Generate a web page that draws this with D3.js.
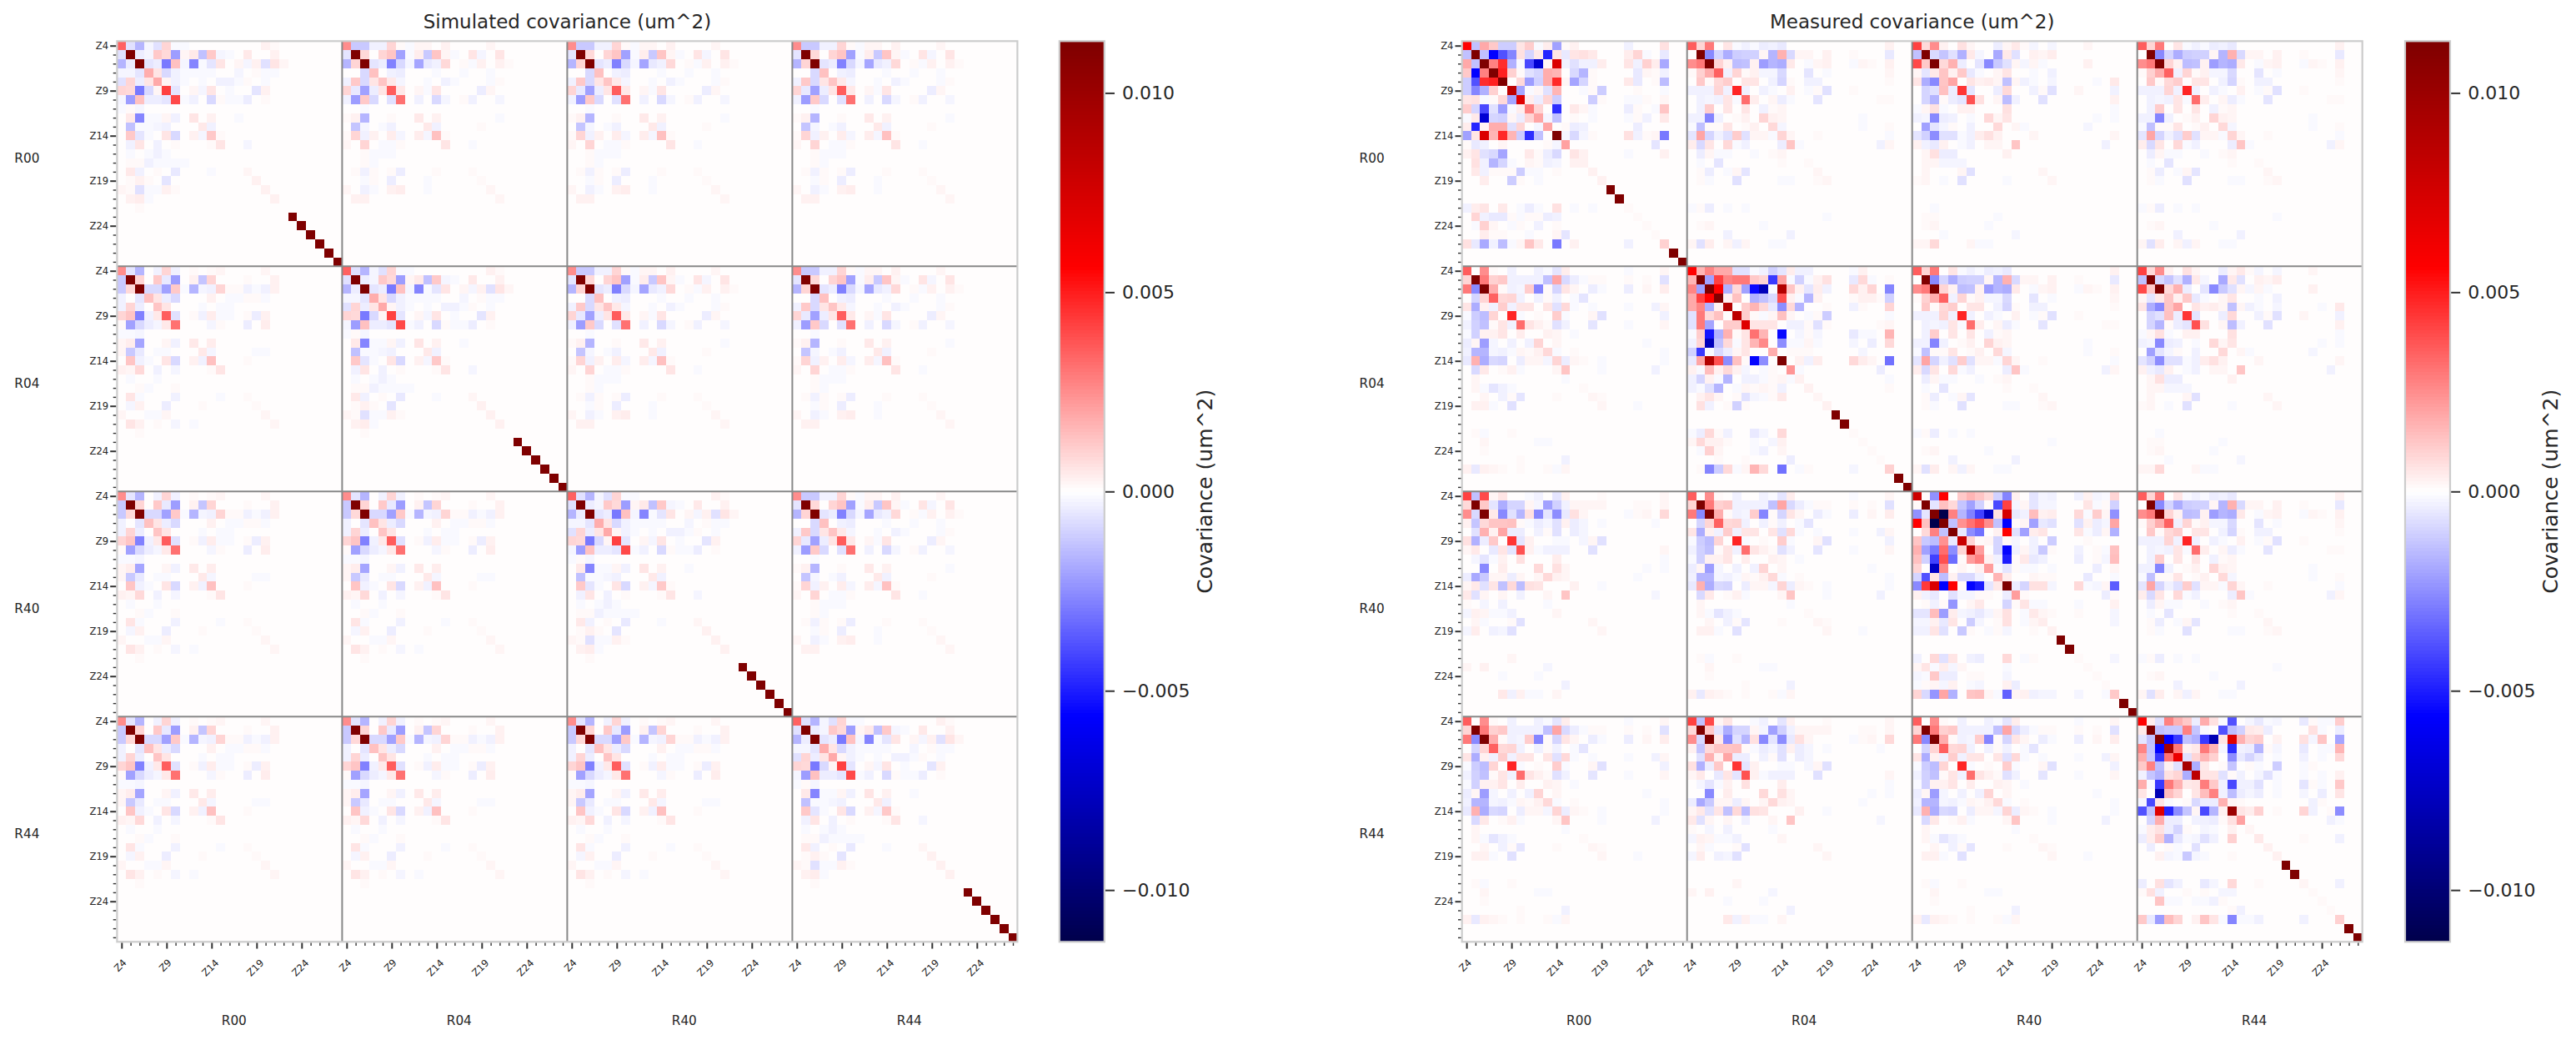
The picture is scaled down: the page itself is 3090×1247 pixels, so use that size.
<!DOCTYPE html>
<html>
<head>
<meta charset="utf-8">
<script src="https://cdn.jsdelivr.net/npm/d3@7"></script>
<style>
body { margin: 0; background: #fff; }
text { font-family: "DejaVu Sans", sans-serif; fill: #262626; }
</style>
</head>
<body>
<div id="chart"></div>
<script>
// values below are in units of 1e-4 um^2. rows are cut after the last non zero value
var rafts = ['R00', 'R04', 'R40', 'R44'];
var colorTicks = [-0.010, -0.005, 0, 0.005, 0.010];
var colorMax = 0.0113;

var simDiag = [
[35,-7,-16,-2,-7,9,-1,-1,0,0,0,0,0,0,0,0,3,1],
[-7,113,-4,-2,12,8,-22,2,5,-14,12,-2,-1,0,5,0,0,3],
[-16,-4,113,-6,-4,-30,14,-2,-27,-1,-6,6,0,2,-2,3,-7,6,2],
[-2,-2,-6,18,6,-8,-3,-1,-1,-1,-1,0,0,-2,0,1,-1,-1],
[-7,9,-4,6,19,2,-3,-1,0,-1,0,-3,-3,-1,1,0,-1],
[9,8,-30,-8,2,42,-6,0,2,-2,6,0,-1,0,0,-6,3],
[-2,-22,14,-4,-4,-6,40,-1,-3,0,-8,1,-1,-1,-4,0,1],
[-1,1,-2],
[0,5,-27,-1,-1,2,-3,0,6,0,3,0,0,-1],
[0,-14,-1,-1,-2,-3,0,0,0,5,-3],
[0,12,-6,-1,0,6,-8,0,3,-2,12,1],
[0,-3,6,0,-3,0,1,0,0,0,1,6,0,0,-2],
[0,-1,0,-1,-3,-1],
[0,1,1,-3,-1,-1,-1,-1],
[0,5,-3,0,1,0,-5,0,0,0,-1,0,0,0,2],
[0,1,3,1,0,-6,0,0,0,0,0,0,0,0,0,3],
[2,1,-7,-1,-1,3,1,0,0,0,0,0,0,0,0,0,3],
[0,3,4,-1,0,0,0,0,0,0,0,0,0,0,0,0,0,3],
[0,0,1],
[0,0,0,0,0,0,0,0,0,0,0,0,0,0,0,0,0,0,0,113],
[0,0,0,0,0,0,0,0,0,0,0,0,0,0,0,0,0,0,0,0,113],
[0,0,0,0,0,0,0,0,0,0,0,0,0,0,0,0,0,0,0,0,0,113],
[0,0,0,0,0,0,0,0,0,0,0,0,0,0,0,0,0,0,0,0,0,0,113],
[0,0,0,0,0,0,0,0,0,0,0,0,0,0,0,0,0,0,0,0,0,0,0,113],
[0,0,0,0,0,0,0,0,0,0,0,0,0,0,0,0,0,0,0,0,0,0,0,0,113]
];

var simCross = [
[25,-12,-12,-3,-3,9,1,-1,2,2,0,3,0,0,0,0,2],
[-6,113,8,0,9,13,-21,-1,4,-12,13,2,-1,0,6,-2,0,6],
[-16,9,113,-6,-4,-28,-8,-2,-20,-5,-3,8,0,1,-1,3,0,3,1],
[0,0,-8,14,0,-3,-4,0,0,0,-1,0,0,-1,0,0,-1],
[-3,12,-8,6,13,5,-2,0,0,-1,0,-3,-1,0,0,0,-1,1],
[9,-5,-21,-4,6,36,5,0,2,-1,6,0,0,0,0,-4,2],
[-3,-22,12,-8,0,-7,31,0,-3,0,-8,-2,0,1,-3,0,0,-2],
[0,0,-1],
[1,3,-16,0,0,1,0,0,5,0,3,0,0,0,0,0,0,-1],
[0,-13,-2,0,-1,-3,0,0,0,5,-3,0,0,0,0,1],
[1,9,-3,3,0,4,-2,0,4,-2,14,1],
[2,0,9,0,-1,-1,1,0,0,0,0,6,0,0,-1],
[0,0,1,-1,-1,-1],
[0,0,1,-1],
[0,1,-3,1,0,1,-4,0,0,0,1,0,0,0,1],
[0,0,-1,1,0,-4,0,0,0,-1,0,0,0,0,0,1],
[2,0,-3,-1,0,3,4,0,0,-1,0,0,0,0,0,0,2],
[0,3,3,0,0,0,0,0,0,0,0,0,0,0,0,0,0,2]
];

var measR00 = [
[56,-14,19,12,-11,-11,6,11,-1,4,-21,1,3,0,0,0,0,0,-3,0,0,0,7],
[-14,113,-14,-56,-38,-27,7,-9,5,-48,6,-5,6,7,5,0,0,0,4,9,-1,0,-5],
[19,-14,113,28,46,-17,-1,-40,-70,2,72,-3,-7,-3,-3,4,0,0,6,-3,10,4,-19],
[12,-56,28,113,49,10,1,-7,-9,18,16,0,-8,-16,1,0,0,0,0,-5,2,1,-3],
[-11,-38,46,49,113,0,8,-22,-10,18,47,2,-20,-9,1,0,0,0,5,-5,0,1,-15],
[-11,-27,-17,10,0,85,-20,-1,2,-7,16,0,0,-1,1,-11,0,0,0,1,0,0,-1],
[6,7,-1,1,8,-20,70,4,-4,9,-11,0,0,0,-11,1,0,0,-1,-1,1,0,2],
[11,-9,-40,-7,-22,-1,4,28,9,0,-46,0,5,2,-1,0,0,0,-4,1,0,-1,13],
[-1,5,-70,-9,-10,2,-4,9,20,-2,-14,0,1,0,-1,0,0,0,-1,1,-3,0,5],
[4,-48,2,18,18,-7,9,0,-2,20,0,1,-4,-3,0,0,0,0,0,-4],
[-21,6,72,16,47,16,-11,-46,-14,0,113,-2,-8,-2,1,0,0,0,7,-3,1,2,-30],
[1,-5,-3,0,2,0,0,0,0,1,-2,21,0,0,0,0,0,0,0,0,0,-6],
[3,6,-7,-8,-20,0,0,5,1,-4,-8,0,6,3,0,0,0,0,-1,0,0,0,3],
[0,7,-3,-16,-9,-1,0,2,1,-3,-2,0,3,3],
[0,5,-3,1,1,1,-11,-1,-1,0,1,0,0,0,3],
[0,0,4,0,0,-11,1,0,-1,0,0,0,0,0,0,3],
[0,0,0,0,0,0,0,0,0,0,0,0,0,0,0,0,113],
[0,0,0,0,0,0,0,0,0,0,0,0,0,0,0,0,0,113],
[-3,4,6,0,5,0,-1,-4,-1,0,7,0,-1,0,-1,0,0,0,1],
[0,9,-3,-5,-5,1,-1,1,1,-4,-3,0,0,0,0,0,0,0,0,1],
[0,-1,10,2,0,-1,1,0,-3,0,1,0,0,0,0,0,0,0,0,0,1],
[0,0,4,1,1,0,0,-1,0,0,2,-6,0,0,0,0,0,0,0,0,0,1],
[7,-5,-19,-3,-15,-1,2,13,5,0,-30,0,3,0,0,0,0,0,-3,0,0,0,10],
[0,0,0,0,0,0,0,0,0,0,0,0,0,0,0,0,0,0,0,0,0,0,0,113],
[0,0,0,0,0,0,0,0,0,0,0,0,0,0,0,0,0,0,0,0,0,0,0,0,113]
];

var measR04 = [
[56,16,27,19,19,-7,-7,-1,-3,-10,-6,4,-3,-3,0,0,0,0,-1,3],
[16,113,-21,42,27,30,30,12,9,-44,20,-1,-10,-1,3,7,0,0,-5,8,-1,0,1],
[27,-21,113,56,-17,8,-21,-54,-78,-1,90,13,3,-6,4,-3,0,0,8,3,9,0,-27],
[19,42,56,113,3,14,0,-17,-14,-8,38,3,-1,-16,3,0,0,0,1,3,3,1,-10],
[19,27,-17,3,90,0,11,16,8,-5,-25,8,-16,0,0,1,0,0,-3,1,0,0,9],
[-7,30,8,14,0,85,11,1,-1,2,14,2,0,-1,1,-11,0,0,0,0,0,0,-1],
[-7,30,-20,0,11,11,70,6,6,6,0,-3,-3,1,-7,1,0,0,0,0,0,1,2],
[-1,11,-52,-17,17,1,6,31,16,0,-54,0,-2,1,-2,0,0,0,-5,-1,-1,0,16],
[-3,9,-78,-14,8,-1,6,16,26,0,-25,-1,-1,2,-1,0,0,0,-2,0,-4,0,8],
[-10,-44,-1,-8,-4,2,6,0,0,18,0,1,1,1,0,0,0,0,0,-2],
[-5,20,90,38,-25,14,1,-55,-25,0,113,0,3,-3,4,0,0,0,8,4,2,0,-31],
[3,-1,15,3,8,3,-2,0,-1,1,0,23,-1,0,0,0,0,0,0,0,0,-4],
[-3,-9,3,-1,-16,0,-3,-3,-1,1,2,-1,3,0,0,0,0,0,0,0,0,0,-1],
[-3,-1,-7,-16,0,-1,2,1,2,1,-3,0,0,3,0,0,0,0,0,0,0,0,1],
[0,3,6,2,0,1,-7,-2,-1,1,5,0,0,0,2],
[0,7,-3,0,1,-10,1,0,0,0,0,0,0,0,0,3],
[0,0,0,0,0,0,0,0,0,0,0,0,0,0,0,0,113],
[0,0,0,0,0,0,0,0,0,0,0,0,0,0,0,0,0,113],
[-1,-4,8,1,-3,0,0,-5,-2,0,8,0,0,0,0,0,0,0,1],
[2,8,3,3,1,0,0,-1,0,-2,3,0,0,0,0,0,0,0,0,1],
[0,-1,10,2,0,0,0,-1,-3,0,2,0,0,0,0,0,0,0,0,0,1],
[0,0,0,1,0,0,1,0,0,0,0,-4,0,0,0,0,0,0,0,0,0,1],
[0,1,-27,-11,8,-1,2,16,8,0,-31,0,-1,1,0,0,0,0,-2,0,0,0,10],
[0,0,0,0,0,0,0,0,0,0,0,0,0,0,0,0,0,0,0,0,0,0,0,113],
[0,0,0,0,0,0,0,0,0,0,0,0,0,0,0,0,0,0,0,0,0,0,0,0,113]
];

var measR40 = [
[78,1,-24,56,0,12,16,13,8,-10,-27,3,0,-6,-2,-3,0,0,-3,3,-2,-1,9],
[1,113,-6,14,8,-13,-21,-10,1,-40,42,-2,2,-6,-2,-2,0,0,0,6,-1,1,-10],
[-24,-6,113,-113,28,-16,-28,-42,-75,7,75,-5,-3,15,3,4,0,0,8,-1,11,2,-24],
[56,14,-113,113,-14,24,31,38,25,-14,-56,1,2,-21,-5,-7,0,0,-7,3,-4,-2,20],
[0,8,28,-14,113,-5,-25,-31,0,3,56,-7,-21,4,6,0,0,0,6,-1,-4,2,-17],
[13,-12,-15,24,-5,80,9,1,2,-9,1,-2,0,-3,0,-11,0,0,0,1],
[17,-21,-30,32,-25,9,85,22,0,-9,-55,-3,2,-3,-12,1,0,0,-3,0,1,-1,14],
[14,-10,-42,38,-32,1,22,28,3,-3,-50,1,5,-5,-3,0,0,0,-4,0,1,-2,15],
[9,0,-75,26,0,2,0,3,22,-1,-6,1,-1,-1,0,-1,0,0,0,0,-4,0,2],
[-9,-38,6,-15,3,-8,-8,-3,0,16,4,0,0,2,1,1,0,0,0,-5,0,0,-1],
[-26,44,72,-56,56,1,-55,-50,-6,5,113,-4,-9,7,7,-2,0,0,8,-1,-2,2,-36],
[3,-3,-5,0,-7,-2,-2,1,1,0,-4,22,1,0,0,0,0,0,0,0,0,-4,1],
[0,1,-3,1,-23,0,2,5,0,0,-9,1,6,-1,-1,0,0,0,-1,0,0,0,3],
[-6,-6,15,-22,4,-2,-3,-5,-2,2,7,0,-1,5,2,1,0,0,1,0,0,0,-2],
[-2,-2,3,-5,6,0,-11,-2,0,1,7,0,-1,2,4,0,0,0,0,0,0,0,-2],
[-3,-3,6,-7,0,-12,1,0,-1,1,-2,0,0,1,0,3],
[0,0,0,0,0,0,0,0,0,0,0,0,0,0,0,0,113],
[0,0,0,0,0,0,0,0,0,0,0,0,0,0,0,0,0,113],
[-3,0,8,-7,6,0,-3,-4,0,0,8,0,-1,1,0,0,0,0,1,0,0,0,-2],
[2,6,-1,4,-2,2,0,0,0,0,-1,0,0,0,0,0,0,0,0,1],
[-2,-1,12,-4,-4,0,1,1,0,0,-2,0,0,0,0,0,0,0,0,0,1],
[-1,1,2,-2,3,0,-1,-2,0,0,3,-4,0,0,0,0,0,0,0,0,0,1],
[9,-8,-23,20,-17,0,13,14,2,-1,-35,2,3,-3,-2,-2,0,0,-2,0,0,-1,12],
[0,0,0,0,0,0,0,0,0,0,0,0,0,0,0,0,0,0,0,0,0,0,0,113],
[0,0,0,0,0,0,0,0,0,0,0,0,0,0,0,0,0,0,0,0,0,0,0,0,113]
];

var measR44 = [
[56,4,-7,28,17,12,-4,18,7,-1,-38,0,-2,-5,-1,-2,0,0,-5,1,-1,-1,11],
[5,113,-14,-12,-12,28,-13,-1,0,-38,-15,-10,5,4,-4,0,0,0,0,7,-1,0,-4],
[-6,-14,113,-56,-44,-14,-17,-44,-80,6,70,17,9,11,0,3,0,0,7,-2,13,0,-20],
[27,-13,-56,95,30,3,5,30,16,-2,-46,-3,-4,-16,1,-2,0,0,-5,0,-1,-1,16],
[18,-12,-44,31,65,-7,9,16,10,0,-25,-5,-9,-5,0,-1,0,0,-3,0,-1,0,8],
[12,28,-15,3,-7,95,-18,5,0,1,-13,0,1,-1,0,-11,0,0,-1,1],
[-3,-13,-17,7,9,-18,85,6,6,-7,1,-3,0,-2,-7,-1,0,0,-1,0,-1,0,3],
[18,-1,-44,30,17,5,6,29,12,-3,-40,-3,-3,-7,0,-1,0,0,-6,1,-1,0,12],
[6,0,-80,15,9,0,6,15,28,-3,-15,-4,-2,-4,0,-1,0,0,-2,0,-4,0,6],
[-2,-40,6,-1,0,1,-8,-4,-4,17,2,1,0,0,0,0,0,0,0,-3,1],
[-38,-14,70,-48,-25,-13,2,-40,-16,3,100,6,4,10,0,1,0,0,9,-3,0,1,-25],
[0,-9,18,-4,-4,0,-3,-3,-4,1,7,21,0,0,0,0,0,0,0,0,0,-3,-1],
[-1,4,7,-4,-9,1,0,-2,-1,0,3,0,2],
[-4,4,11,-17,-5,-1,-2,-7,-3,0,10,0,0,5,0,0,0,0,1,0,0,0,-3],
[0,-4,0,1,-1,0,-7,0,0,0,0,0,0,0,3],
[0,0,3,-2,-1,-12,-2,-1,0,0,1,0,0,0,0,3],
[0,0,0,0,0,0,0,0,0,0,0,0,0,0,0,0,113],
[0,0,0,0,0,0,0,0,0,0,0,0,0,0,0,0,0,113],
[-4,0,7,-6,-3,0,0,-5,-2,0,8,0,0,1,0,0,0,0,2,0,0,0,-3],
[1,7,-3,0,0,1,0,1,0,-2,-2,0,0,0,0,0,0,0,0,1],
[0,0,13,-1,-1,0,-1,-1,-3,1,0,0,0,0,0,0,0,0,0,0,1],
[0,0,0,0,0,0,0,0,0,0,1,-3,0,0,0,0,0,0,0,0,0,1],
[12,-5,-22,15,9,0,3,13,6,-1,-27,-1,-1,-3,0,0,0,0,-3,0,0,0,10],
[0,0,0,0,0,0,0,0,0,0,0,0,0,0,0,0,0,0,0,0,0,0,0,113],
[0,0,0,0,0,0,0,0,0,0,0,0,0,0,0,0,0,0,0,0,0,0,0,0,113]
];

var measCrossA = [
[36,9,30,0,6,-1,-3,-1,-4,-3,-5,0,0,0,0,0,0,0,0,0,0,0,3],
[0,113,-26,-9,-18,-11,-10,-10,2,-16,17,-8,2,2,0,3,0,0,1,0,0,0,-5],
[25,30,113,9,3,-15,-14,3,-22,-16,-18,5,0,-1,2,3,0,0,-1,2,1,0,3],
[1,10,18,35,-3,9,1,3,-2,-2,-8,0,0,-6,0,-1,0,0,0,0,0,0,2],
[0,12,1,8,11,0,6,6,0,-3,-9,1,0,-3,-3,0,0,0,0,0,0,0,1],
[-3,-3,-3,9,-3,48,-3,0,-3,-1,0,3,0,-1,1,-7,0,0,1],
[0,-3,-2,-3,6,-1,32,4,0,2,-4,-1,0,0,-6,0,0,0,0,0,0,1,1],
[0,-3,11,0,6,0,6,0,-3,1,2],
[-3,-3,-27,-3,0,1,3,0,9,3,2,0,0,0,0,0,0,0,0,-1],
[-1,-14,1,1,6,0,1,3,0,8,-2,0,0,0,0,0,0,0,0,-1,0,0,1],
[-6,20,-9,-3,-7,11,-7,2,2,-1,9,2,0,0,1,0,0,0,0,0,0,0,-1],
[4,-8,6,0,8,-1,-3,0,0,0,-4,13,-1,0,0,0,0,0,0,0,0,-3,2],
[0,-4,2,-1,-1,0,0,-1,0,1,2],
[0,-1,0,-6,0,0,0,0,0,0,1,0,0,1],
[0,1,-4,0,-1,2,-6,0,0,0,0,0,0,0,2],
[0,1,-1,0,0,-7,0,0,0,0,-1,-1,0,0,1,2],
[],
[],
[-1,1,-4,0,-1,0,-1],
[0,0,0,0,0,0,0,0,0,0,0,0,0,0,0,-1],
[0,1,2,0,0,0,0,0,-1],
[0,0,0,0,-3,0,0,0,0,0,0,-3],
[2,-7,4,0,2,-3,2,0,0,-1,-1]
];

var measCrossB = [
[42,8,25,3,0,7,2,0,0,-4,2,5,1,-2,0,-2,0,0,0,2],
[-14,113,-8,-13,-7,-17,5,-2,0,-19,5,-7,0,3,2,4],
[40,12,113,8,17,-4,0,-6,-26,-12,-7,2,-2,2,-1,0,0,0,0,3],
[2,-6,5,13,3,12,-5,-1,0,2,6,0,0,-1,0,-3],
[6,-18,-26,13,20,0,6,3,4,2,-14,2,-3,-1,0,-2,0,0,0,0,-1,0,5],
[0,-9,-7,14,-4,45,-6,0,0,-4,8,0,0,-3,1,-7,0,0,2,0,0,0,-3],
[0,-9,-16,1,-4,-6,38,7,0,2,-15,-3,0,0,-7,0,0,0,0,0,0,0,3],
[-1,2,7,-1,0,3,3,0,0,0,7,0,0,0,0,0,0,0,0,0,0,0,-1],
[-3,-2,-26,-4,-3,0,-1,0,8,2,6,0,0,0,0,0,0,0,0,0,-1,0,-1],
[0,-21,-6,-2,1,0,-3,0,0,8,0,2,-1,0,0,0,0,0,0,-2],
[-6,-10,-25,-7,-7,-1,-3,4,7,3,0,0,0,2,0,0,0,0,0,0,0,0,2],
[3,-3,-5,3,0,-1,-3,0,2,2,0,13,0,0,0,0,0,0,0,0,0,-3],
[0,2,7,-4,-4,0,0,0,0,0,3],
[0,2,2,-2,-2,-2],
[0,2,0,0,0,2,-7,0,0,0,0,0,0,0,2],
[1,2,0,-1,0,-7,0,0,0,0,-1,0,0,0,0,2],
[],
[],
[0,0,-1],
[0,1,1,0,0,0,0,0,0,-1],
[0,1,2,0,0,0,0,0,-1],
[0,0,0,-1,0,0,0,0,0,0,0,-2],
[2,2,8,0,0,0,2,-1,-1]
];

var width = 3090;
var height = 1247;
var blockSize = 25;
var cellCount = rafts.length * blockSize;
var panelSize = 1080;
var panelTop = 49.3;

var svg = d3.select('#chart')
    .append('svg')
    .attr('width', width)
    .attr('height', height)
    .style('display', 'block');

// matplotlib seismic, 256 levels: that is why zero comes out as very light pink
var seismic = d3.scaleLinear()
    .domain([0, 0.25, 0.5, 0.75, 1])
    .range(['#00004c', '#0000ff', '#ffffff', '#ff0000', '#7f0000']);

function colorOf(value){
    var level = Math.floor((value + colorMax) / (2 * colorMax) * 256);
    level = Math.max(0, Math.min(255, level));
    return seismic(level / 255);
}

function transpose(block){
    return d3.range(blockSize).map(function(r){
        return d3.range(blockSize).map(function(c){
            return (block[c] && block[c][r]) || 0;
        });
    });
}

function zLabel(i){
    var k = i % blockSize;
    return k % 5 === 0 ? 'Z' + (k + 4) : '';
}

function drawPanel(left, title, diagBlocks, crossBlock, colorbarLeft){
    var g = svg.append('g');

    var x = d3.scaleLinear().domain([-0.5, cellCount - 0.5]).range([left, left + panelSize]);
    var y = d3.scaleLinear().domain([-0.5, cellCount - 0.5]).range([panelTop, panelTop + panelSize]);
    var cell = x(1) - x(0);

    // every pair of rafts gets one block, lower half mirrors the upper half
    var cells = [];
    rafts.forEach(function(a, i){
        rafts.forEach(function(b, j){
            var block;
            if (i === j) block = diagBlocks[i];
            else if (i < j) block = crossBlock(i, j);
            else block = transpose(crossBlock(j, i));
            d3.range(blockSize).forEach(function(r){
                d3.range(blockSize).forEach(function(c){
                    var v = (block[r] && block[r][c]) || 0;
                    cells.push({row: i * blockSize + r, col: j * blockSize + c, value: v * 1e-4});
                });
            });
        });
    });

    g.append('g').selectAll('rect')
        .data(cells)
        .join('rect')
        .attr('x', function(d){ return x(d.col - 0.5); })
        .attr('y', function(d){ return y(d.row - 0.5); })
        .attr('width', cell + 0.3)
        .attr('height', cell + 0.3)
        .attr('shape-rendering', 'crispEdges')
        .attr('fill', function(d){ return colorOf(d.value); });

    // block dividers
    [1, 2, 3].forEach(function(k){
        var p = k * blockSize - 0.5;
        g.append('line').attr('x1', x(p)).attr('x2', x(p)).attr('y1', panelTop).attr('y2', panelTop + panelSize)
            .attr('stroke', '#888').attr('stroke-width', 2);
        g.append('line').attr('x1', left).attr('x2', left + panelSize).attr('y1', y(p)).attr('y2', y(p))
            .attr('stroke', '#888').attr('stroke-width', 2);
    });

    g.append('rect')
        .attr('x', left).attr('y', panelTop)
        .attr('width', panelSize).attr('height', panelSize)
        .attr('fill', 'none').attr('stroke', '#ccc').attr('stroke-width', 2.2);

    var ticks = d3.range(cellCount);

    var yAxis = g.append('g')
        .attr('transform', 'translate(' + (left - 1.2) + ',0)')
        .call(d3.axisLeft(y).tickValues(ticks).tickFormat(zLabel).tickSize(7).tickPadding(2));
    var xAxis = g.append('g')
        .attr('transform', 'translate(0,' + (panelTop + panelSize + 1.2) + ')')
        .call(d3.axisBottom(x).tickValues(ticks).tickFormat(zLabel).tickSize(7));

    [yAxis, xAxis].forEach(function(axis){
        axis.select('.domain').remove();
        axis.selectAll('.tick line')
            .attr('stroke', '#333')
            .attr('stroke-width', function(d){ return zLabel(d) ? 2 : 1.4; });
        axis.selectAll('.tick text')
            .attr('fill', '#262626')
            .style('font-size', '11.6px')
            .style('font-family', '"DejaVu Sans", sans-serif');
    });
    yAxis.selectAll('.tick line').attr('x2', function(d){ return zLabel(d) ? -7 : -3.5; });
    xAxis.selectAll('.tick line').attr('y2', function(d){ return zLabel(d) ? 7 : 3.5; });

    xAxis.selectAll('.tick text')
        .attr('text-anchor', 'middle')
        .attr('dy', null)
        .attr('y', null)
        .attr('transform', function(d){
            var drop = zLabel(d).length === 2 ? 27 : 30;
            return 'translate(-2,' + drop + ') rotate(-45)';
        })
        .attr('dominant-baseline', 'central');

    // raft names along both sides
    rafts.forEach(function(raft, i){
        var mid = i * blockSize + 12.5;
        g.append('text')
            .attr('x', x(mid))
            .attr('y', 1229)
            .attr('text-anchor', 'middle')
            .style('font-size', '15.3px')
            .text(raft);
        g.append('text')
            .attr('x', left - 93)
            .attr('y', y(mid) + 5.5)
            .attr('text-anchor', 'end')
            .style('font-size', '15.3px')
            .text(raft);
    });

    g.append('text')
        .attr('x', left + panelSize / 2)
        .attr('y', 34)
        .attr('text-anchor', 'middle')
        .style('font-size', '23px')
        .text(title);

    drawColorbar(colorbarLeft);
}

function drawColorbar(left){
    var barWidth = 54;
    var g = svg.append('g');

    var y = d3.scaleLinear().domain([-colorMax, colorMax]).range([panelTop + panelSize, panelTop]);
    var step = 2 * colorMax / 256;

    g.append('g').selectAll('rect')
        .data(d3.range(256))
        .join('rect')
        .attr('x', left)
        .attr('y', function(d){ return y(-colorMax + (d + 1) * step); })
        .attr('width', barWidth)
        .attr('height', y(-colorMax) - y(-colorMax + step) + 0.4)
        .attr('shape-rendering', 'crispEdges')
        .attr('fill', function(d){ return seismic(d / 255); });

    g.append('rect')
        .attr('x', left).attr('y', panelTop)
        .attr('width', barWidth).attr('height', panelSize)
        .attr('fill', 'none').attr('stroke', '#ccc').attr('stroke-width', 2.2);

    var axis = g.append('g')
        .attr('transform', 'translate(' + (left + barWidth + 1.2) + ',0)')
        .call(d3.axisRight(y).tickValues(colorTicks).tickFormat(d3.format('.3f')).tickSize(11).tickPadding(9));
    axis.select('.domain').remove();
    axis.selectAll('.tick line').attr('stroke', '#333').attr('stroke-width', 2);
    axis.selectAll('.tick text')
        .attr('fill', '#262626')
        .style('font-size', '22px')
        .style('font-family', '"DejaVu Sans", sans-serif');

    g.append('text')
        .attr('transform', 'translate(' + (left + 183) + ',' + (panelTop + panelSize / 2) + ') rotate(-90)')
        .attr('text-anchor', 'middle')
        .style('font-size', '25px')
        .text('Covariance (um^2)');
}

function simCrossOf(){ return simCross; }
function measCrossOf(i, j){ return (i + j) % 2 === 1 ? measCrossA : measCrossB; }

drawPanel(140.4, 'Simulated covariance (um^2)', [simDiag, simDiag, simDiag, simDiag], simCrossOf, 1270.8);
drawPanel(1753.7, 'Measured covariance (um^2)', [measR00, measR04, measR40, measR44], measCrossOf, 2885);
</script>
</body>
</html>
